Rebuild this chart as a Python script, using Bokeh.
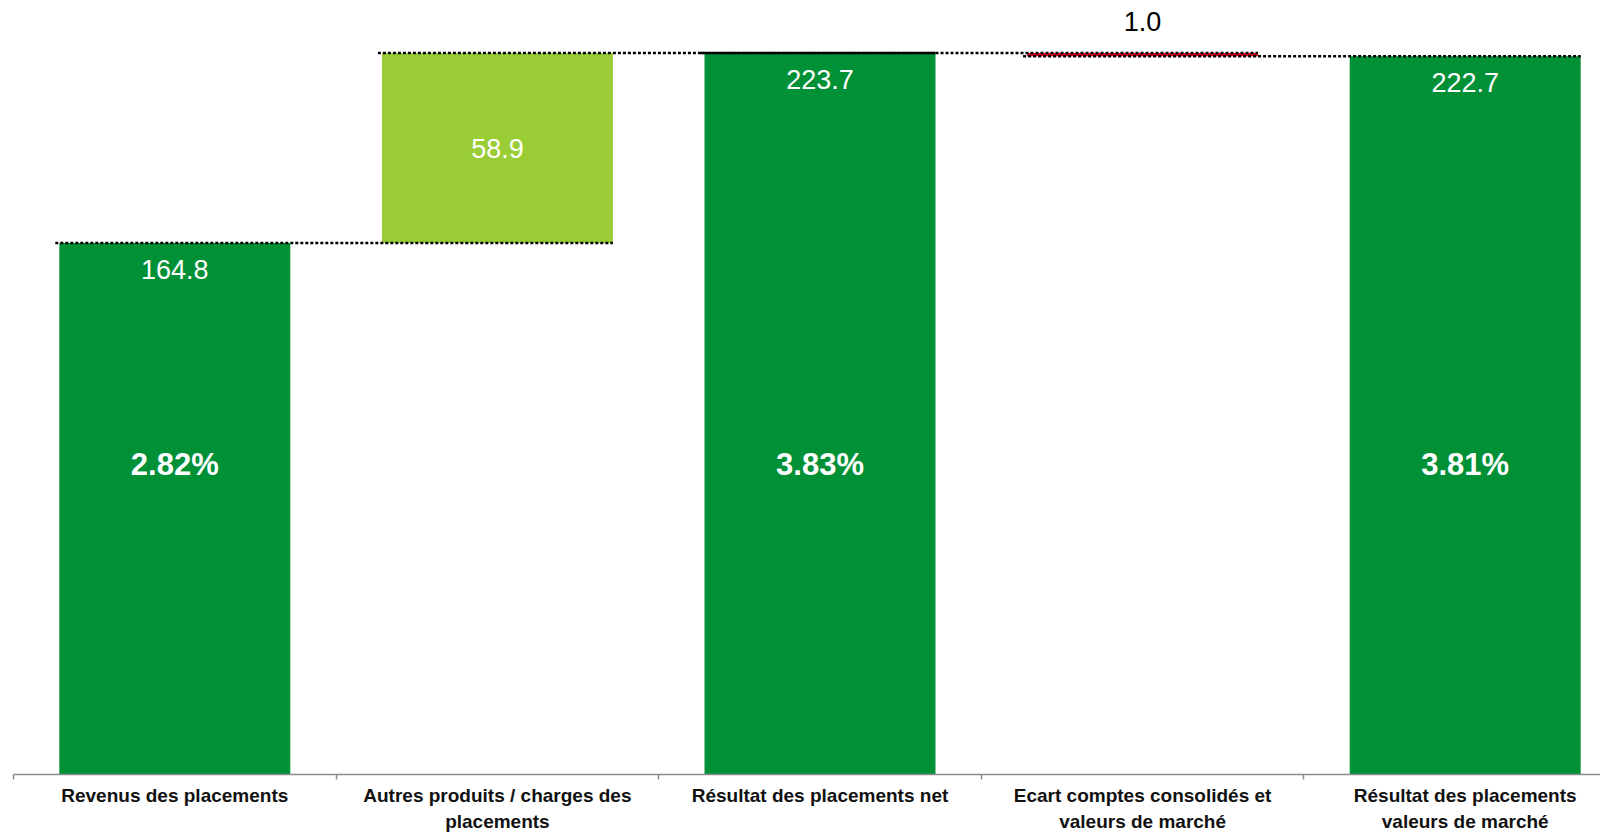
from bokeh.plotting import figure
from bokeh.models import Range1d, FixedTicker
from bokeh.core.properties import value
from bokeh.embed import file_html
from bokeh.resources import INLINE

# ---- data ----
categories = [
    "Revenus des placements",
    "Autres produits / charges des\nplacements",
    "Résultat des placements net",
    "Ecart comptes consolidés et\nvaleurs de marché",
    "Résultat des placements\nvaleurs de marché",
]
values = [164.8, 58.9, 223.7, -1.0, 222.7]
kinds = ["total", "delta", "total", "delta", "total"]
percents = ["2.82%", "", "3.83%", "", "3.81%"]

# ---- styling / derived waterfall geometry ----
FONT = value("Liberation Sans")
DARK_GREEN = "#009036"
LIGHT_GREEN = "#9ACD35"
RED = "#E2001A"
BAR_W = 0.716
CAT_PX = 322.6          # pixels per category
FIG_W = 1600
BORDER_L = 13
PX_UNIT = 3.233         # approx pixels per value unit
YMAX = 240.0

n = len(values)
xs = [i + 0.5 for i in range(n)]
bottoms, tops, ends, colors = [], [], [], []
running = 0.0
for v, k in zip(values, kinds):
    if k == "total":
        b, t = 0.0, v
        running = v
        colors.append(DARK_GREEN)
    else:
        b, t = running, running + v
        running += v
        colors.append(LIGHT_GREEN if v >= 0 else RED)
    bottoms.append(min(b, t))
    tops.append(max(b, t))
    ends.append(running)

p = figure(
    width=FIG_W, height=835,
    x_range=Range1d(0, (FIG_W - BORDER_L) / CAT_PX), y_range=Range1d(0, YMAX),
    output_backend="svg", toolbar_location=None,
    y_axis_location=None,
    min_border_left=BORDER_L, min_border_right=0, min_border_top=0, min_border_bottom=0,
    outline_line_color=None, background_fill_color="white",
)
p.xgrid.visible = False
p.ygrid.visible = False

p.vbar(x=xs, bottom=bottoms, top=tops, width=BAR_W, fill_color=colors, line_color=None)

# dotted connectors
pad = 4 / CAT_PX
cx0, cx1, cy = [], [], []
for i in range(n - 1):
    cx0.append(xs[i] - BAR_W / 2 - pad)
    cx1.append(xs[i + 1] + BAR_W / 2)
    cy.append(ends[i])
p.segment(x0=cx0, y0=cy, x1=cx1, y1=cy, line_color="black", line_width=2.5, line_dash="3 2")

# value labels
lx, ly, lt, lc = [], [], [], []
for i, (v, k) in enumerate(zip(values, kinds)):
    lx.append(xs[i])
    lt.append(f"{abs(v):.1f}")
    if k == "total":
        ly.append(tops[i] - 26.5 / PX_UNIT)
        lc.append("white")
    elif v >= 0:
        ly.append((tops[i] + bottoms[i]) / 2)
        lc.append("white")
    else:
        ly.append(tops[i] + 32 / PX_UNIT)
        lc.append("black")
p.text(x=lx, y=ly, text=lt, text_color=lc, text_font=FONT, text_font_size="27px",
       text_align="center", text_baseline="middle")

# percentage labels
pxs = [xs[i] for i in range(n) if percents[i]]
pts = [s for s in percents if s]
pys = [96.2] * len(pts)
p.text(x=pxs, y=pys, text=pts, text_color="white", text_font=FONT, text_font_size="31px",
       text_font_style="bold", text_align="center", text_baseline="middle")

ax = p.xaxis[0]
ax.ticker = FixedTicker(ticks=xs, minor_ticks=list(range(n + 1)))
ax.major_label_overrides = {x: c for x, c in zip(xs, categories)}
ax.major_tick_in = 0
ax.major_tick_out = 0
ax.minor_tick_in = 0
ax.minor_tick_out = 5
ax.minor_tick_line_color = "#8C8C8C"
ax.minor_tick_line_width = 1.5
ax.axis_line_color = "#8C8C8C"
ax.axis_line_width = 1.5
ax.major_label_text_font = "Liberation Sans"
ax.major_label_text_font_style = "bold"
ax.major_label_text_font_size = "19px"
ax.major_label_text_color = "#111111"
ax.major_label_text_line_height = 1.27
ax.major_label_standoff = 5

open("out.html", "w").write(file_html(p, INLINE))
